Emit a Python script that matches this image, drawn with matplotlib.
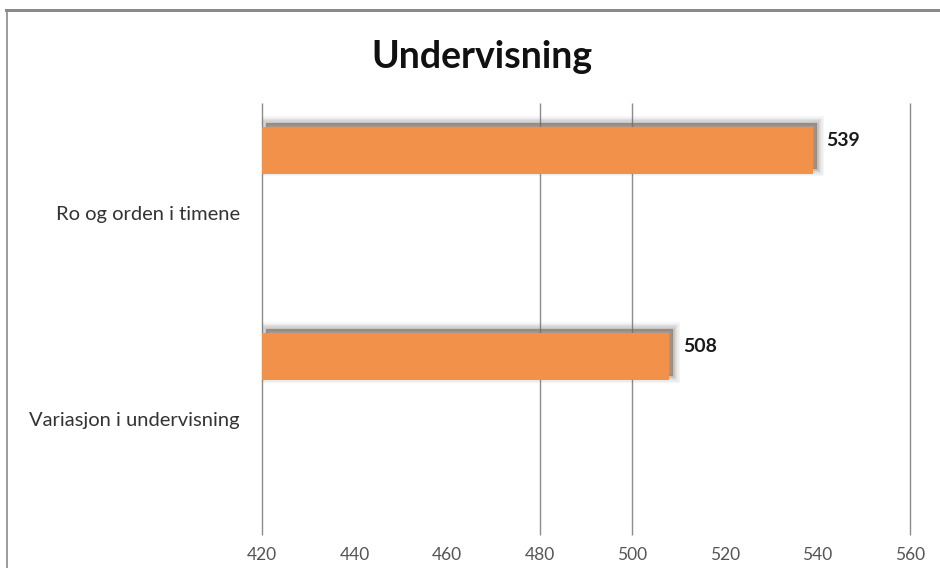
import matplotlib
matplotlib.use("Agg")
import matplotlib.pyplot as plt
import matplotlib.patheffects as pe
from matplotlib.patches import Rectangle

categories = ["Ro og orden i timene", "Variasjon i undervisning"]
values = [539, 508]
x_ticks = [420, 440, 460, 480, 500, 520, 540, 560]
grid_values = [420, 480, 500, 560]
title = "Undervisning"

plt.rcParams['font.family'] = ['Lato', 'DejaVu Sans']

fig = plt.figure(figsize=(9.4, 5.68), dpi=100)
ax = fig.add_axes([262/940, 1-535/568, (910-262)/940, (535-103)/568])

# outer chart frame (partially cropped)
fig.patches.append(Rectangle((7/940, -0.1), 2.0, 1-11/568+0.1, transform=fig.transFigure,
                             fill=False, edgecolor='#8a8a8a', linewidth=1.2, zorder=0))
fig.patches.append(Rectangle((5/940, 1-12/568), 1.0, 3/568, transform=fig.transFigure,
                             facecolor='#8a8a8a', edgecolor='none', zorder=0))

ypos = [i for i in range(len(categories))]
bar_pos = [y - 0.305 for y in ypos]

ax.vlines(grid_values, 0, 1, transform=ax.get_xaxis_transform(), color='#8c8c8c',
          linewidth=1.0, zorder=1, clip_on=False)

shadow = [pe.Stroke(offset=(3, 3), linewidth=lw, foreground='#606060', alpha=a)
          for lw, a in [(10, 0.05), (8, 0.06), (6, 0.08), (4, 0.1), (2, 0.12)]]
shadow += [pe.SimplePatchShadow(offset=(3, 3), shadow_rgbFace='#606060', alpha=0.45), pe.Normal()]

bars = ax.barh(bar_pos, [v - x_ticks[0] for v in values], left=x_ticks[0], height=0.228,
               color='#F2914A', edgecolor='none', zorder=3)
for b in bars:
    b.set_path_effects(shadow)

for y, v in zip(bar_pos, values):
    ax.annotate(str(v), xy=(v, y), xytext=(10, 7), textcoords='offset points',
                ha='left', va='center', fontsize=14, fontweight='bold', color='#1a1a1a')

ax.set_xlim(x_ticks[0], x_ticks[-1])
ax.set_ylim(1.563, -0.534)
ax.set_xticks(x_ticks)
ax.set_xticklabels([str(t) for t in x_ticks], color='#555555', fontsize=12.5)
ax.set_yticks(ypos)
ax.set_yticklabels(categories, color='#333333', fontsize=14.5)
ax.tick_params(axis='both', length=0)
ax.tick_params(axis='x', pad=9)
ax.tick_params(axis='y', pad=16)
for s in ax.spines.values():
    s.set_visible(False)

fig.text(482/940, 1-57/568, title, ha='center', va='center', fontsize=27,
         fontweight='bold', color='#111111')

fig.savefig("out.png", dpi=100)
